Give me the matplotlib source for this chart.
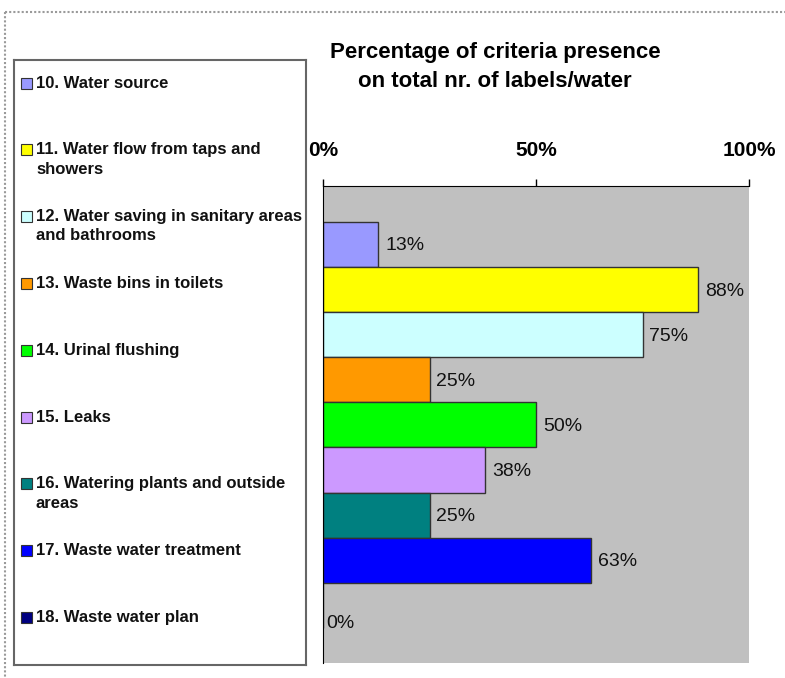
import matplotlib
matplotlib.use("Agg")
import matplotlib.pyplot as plt
from matplotlib import font_manager
from matplotlib.patches import Rectangle
from matplotlib.lines import Line2D

# Criteria and share of labels covering each one
categories = [
    "10. Water source",
    "11. Water flow from taps and\nshowers",
    "12. Water saving in sanitary areas\nand bathrooms",
    "13. Waste bins in toilets",
    "14. Urinal flushing",
    "15. Leaks",
    "16. Watering plants and outside\nareas",
    "17. Waste water treatment",
    "18. Waste water plan",
]
values = [13, 88, 75, 25, 50, 38, 25, 63, 0]
colors = ["#9999FF", "#FFFF00", "#CCFFFF", "#FF9900", "#00FF00",
          "#CC99FF", "#008080", "#0000FF", "#000080"]
tick_values = [0, 50, 100]
tick_labels = ["0%", "50%", "100%"]
title = "Percentage of criteria presence\non total nr. of labels/water"


def pick_font(names):
    for name in names:
        try:
            font_manager.findfont(font_manager.FontProperties(family=name),
                                  fallback_to_default=False)
            return name
        except Exception:
            continue
    return "DejaVu Sans"


base_font = pick_font(["Liberation Sans", "Arial"])
plt.rcParams["font.family"] = base_font

W, H = 785, 678
fig = plt.figure(figsize=(W / 100, H / 100), dpi=100)


def fx(px):
    return px / W


def fy(py):
    return 1 - py / H


# Outer chart frame (top and left edges)
fig.add_artist(Line2D([fx(5), fx(785)], [fy(12), fy(12)], color="#9a9a9a",
                      lw=1.5, ls=(0, (1, 1))))
fig.add_artist(Line2D([fx(5), fx(5)], [fy(12), fy(678)], color="#9a9a9a",
                      lw=1.5, ls=(0, (1, 1))))

# Plot area
left, right, top, bottom = 323, 749, 186, 663
ax = fig.add_axes([fx(left), fy(bottom), fx(right - left), (bottom - top) / H])
ax.set_facecolor("#C0C0C0")

n = len(values)
ypos = list(range(n))
ax.barh(ypos, values, height=1.0, color=colors, edgecolor="#333333",
        linewidth=1.0, zorder=2)
for y, v in zip(ypos, values):
    # empty bars get their label dropped just below the slot centre
    dy = -1 if v > 0 else -13
    ax.annotate(f"{v}%", xy=(v, y), xytext=(5 if v > 0 else 2, dy),
                textcoords="offset points", va="center", ha="left",
                fontsize=14, color="#111111", zorder=3)

ax.set_xlim(0, 100)
ax.set_ylim(n - 0.5 + 0.78, -0.5 - 0.8)
ax.xaxis.tick_top()
ax.set_xticks(tick_values)
ax.set_xticklabels(tick_labels, fontweight="bold", fontsize=15)
ax.tick_params(axis="x", direction="out", length=5, width=1, color="black",
               pad=14)
ax.set_yticks([])
for side in ("right", "bottom"):
    ax.spines[side].set_visible(False)
ax.spines["top"].set_color("black")
ax.spines["left"].set_color("black")

# Title
fig.text(fx(495), fy(67), title, ha="center", va="center",
         fontweight="bold", fontsize=16, linespacing=1.45)

# Legend panel
lax = fig.add_axes([fx(14), fy(665), fx(306 - 14), (665 - 60) / H], zorder=5)
lax.set_xlim(14, 306)
lax.set_ylim(665, 60)
lax.set_xticks([])
lax.set_yticks([])
lax.set_facecolor("white")
for sp in lax.spines.values():
    sp.set_color("#666666")
    sp.set_linewidth(1.5)

first_line = 83
step = 66.8
for i, (lab, col) in enumerate(zip(categories, colors)):
    yc = first_line + i * step
    lax.add_patch(Rectangle((21, yc - 5.5), 11, 11, facecolor=col,
                            edgecolor="#333333", lw=0.8))
    lax.text(36, yc - 7.5, lab, ha="left", va="top", fontsize=12,
             fontweight="bold", linespacing=1.35, color="#111111")

fig.savefig("out.png", dpi=100)
